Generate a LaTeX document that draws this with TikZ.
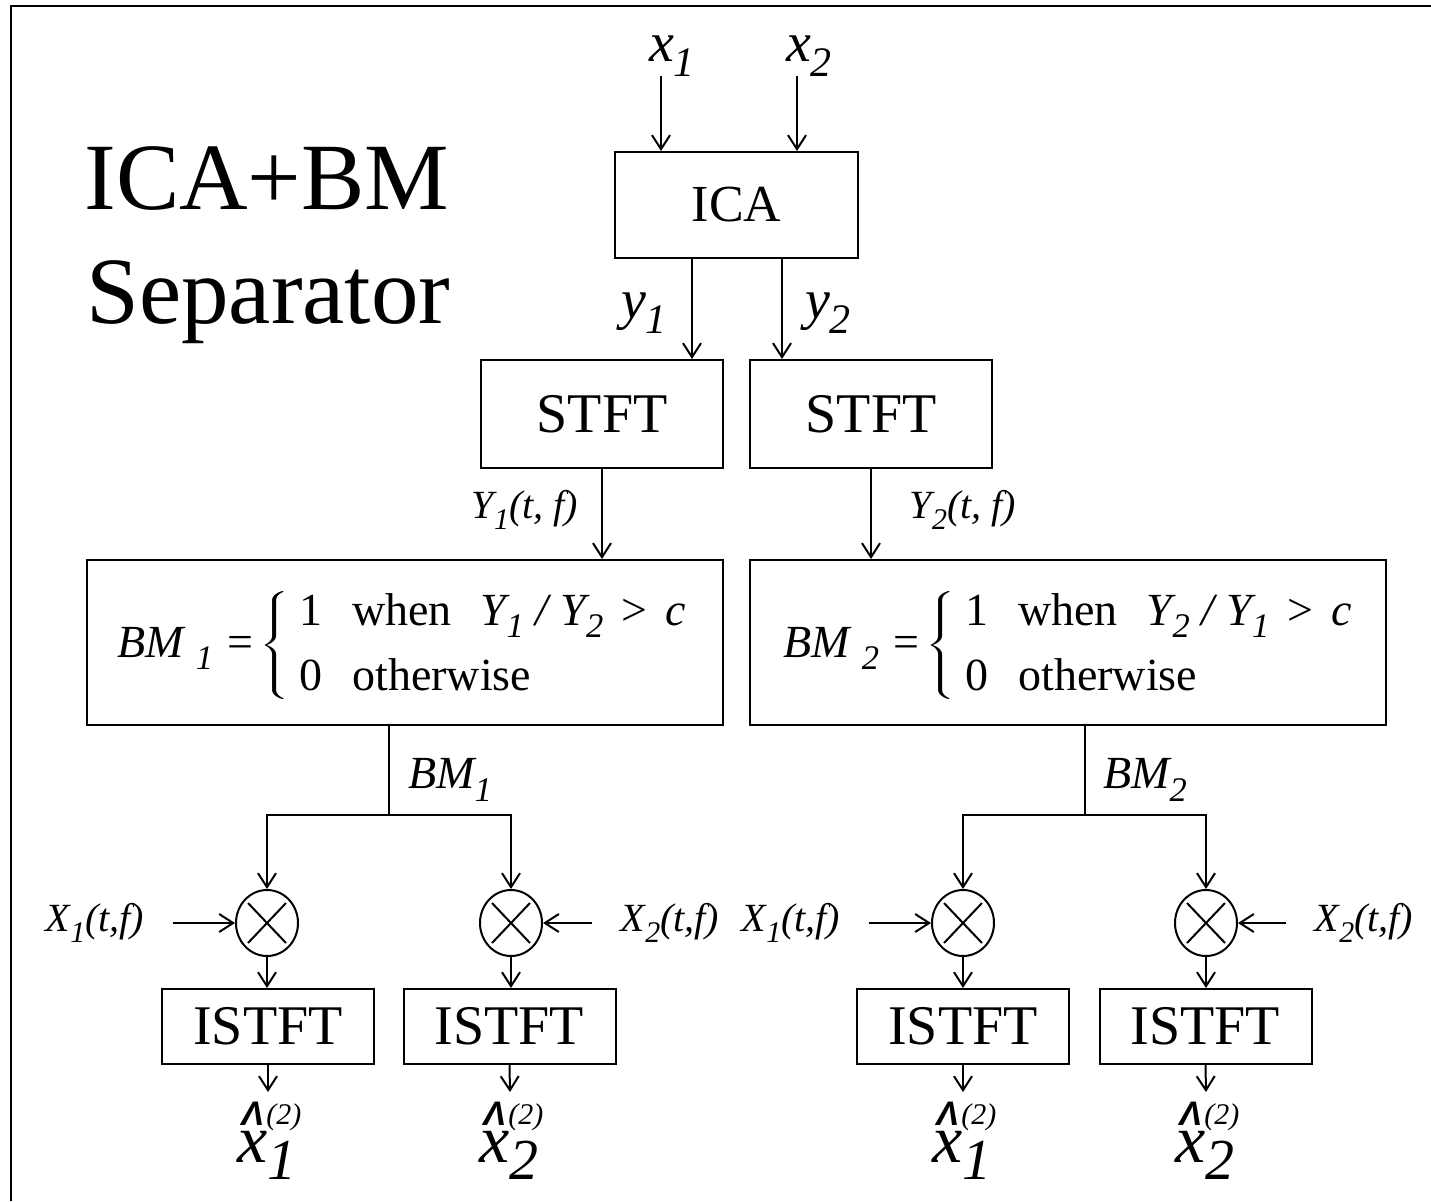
\documentclass[tikz,border=0pt]{standalone}
\usepackage{fontspec}
\setmainfont{Liberation Serif}
\setsansfont{Liberation Sans}
\usetikzlibrary{arrows.meta,shapes.geometric}
\newcommand{\lsub}[2][0.75]{\raisebox{-0.27em}{\scalebox{#1}{#2}}}
\newcommand{\xhat}[1]{{\fontsize{34}{34}\selectfont\itshape
\rlap{\hspace{2pt}\raisebox{18.5pt}{\fontsize{17}{17}\selectfont\sffamily\bfseries Λ}}%
\rlap{\hspace{14.5pt}\raisebox{19pt}{\fontsize{15}{15}\selectfont (2)}}%
\rlap{\hspace{15pt}\raisebox{-8.5pt}{\fontsize{29}{29}\selectfont #1}}%
x}}
\newcommand{\bmformula}[3]{{\fontsize{23}{32.5}\selectfont
{\itshape BM\hspace{6pt}\lsub{#1}}\hspace{7pt}=\hspace{3pt}\scalebox{1.7}[1]{$\left\{\vcenter{\hbox{\rule{0pt}{54pt}}}\right.$}\hspace{3pt}%
\begin{tabular}{@{}l@{\hspace{15pt}}l@{}}
1 & when\hspace{14.5pt}{\itshape Y\lsub{#2}\hspace{6pt}/\hspace{6pt}Y\lsub{#3}}\hspace{9pt}>\hspace{9pt}{\itshape c}\\
0 & otherwise
\end{tabular}}}
\begin{document}
\begin{tikzpicture}[x=0.5pt,y=-0.5pt,
  box/.style={draw,line width=1pt,inner sep=0pt},
  arr/.style={line width=1pt,-{Straight Barb[length=7pt,width=9pt]}},
  wire/.style={line width=1pt},
  mult/.style={draw,line width=1pt,ellipse,minimum width=31pt,minimum height=33pt,inner sep=0pt},
  lab/.style={inner sep=0pt},
  boxtxt/.style={font=\fontsize{28}{30}\selectfont},
  sig/.style={inner sep=0pt,font=\fontsize{28}{30}\selectfont\itshape},
  small/.style={inner sep=0pt,font=\fontsize{20}{22}\selectfont\itshape}]
\useasboundingbox (0,0) rectangle (1431,1201);
% frame (top and left edges)
\coordinate (fr0) at (11,1201);
\coordinate (fr1) at (11,6);
\coordinate (fr2) at (1431,6);
\draw[line width=1.3pt] (fr0) -- (fr1) -- (fr2);
% title
\node[lab,anchor=base west,font=\fontsize{47.5}{57}\selectfont] (t1) at (84,209) {ICA+BM};
\node[lab,anchor=base west,font=\fontsize{47.5}{57}\selectfont] (t2) at (86,323) {Separator};
% ICA
\node[box,font=\fontsize{26}{28}\selectfont,minimum width=121.5pt,minimum height=53pt] (ica) at (736.5,205) {ICA};
\node[sig] (x1) at (672,56) {x\lsub{1}};
\node[sig] (x2) at (809,56) {x\lsub{2}};
\coordinate (x1s) at (661,76);
\coordinate (x2s) at (797,76);
\draw[arr] (x1s) -- (x1s |- ica.north);
\draw[arr] (x2s) -- (x2s |- ica.north);
% STFT
\node[box,boxtxt,minimum width=121pt,minimum height=54pt] (stft1) at (602,414) {STFT};
\node[box,boxtxt,minimum width=121pt,minimum height=54pt] (stft2) at (871,414) {STFT};
\coordinate (y1s) at (692,258);
\coordinate (y2s) at (782,258);
\draw[arr] (y1s |- ica.south) -- (y1s |- stft1.north);
\draw[arr] (y2s |- ica.south) -- (y2s |- stft2.north);
\node[sig] (y1) at (644,313) {y\lsub{1}};
\node[sig] (y2) at (828,313) {y\lsub{2}};
% BM boxes
\node[box,minimum width=318pt,minimum height=82.5pt] (bm1) at (405,642.5) {};
\node[box,minimum width=318pt,minimum height=82.5pt] (bm2) at (1068,642.5) {};
\node[lab,anchor=west] (f1) at (117,645) {\bmformula{1}{1}{2}};
\node[lab,anchor=west] (f2) at (783,645) {\bmformula{2}{2}{1}};
\draw[arr] (stft1.south) -- (stft1.south |- bm1.north);
\draw[arr] (stft2.south) -- (stft2.south |- bm2.north);
\node[small] (Y1) at (525,510) {Y\lsub{1}(t, f)};
\node[small] (Y2) at (963,510) {Y\lsub{2}(t, f)};
% multipliers
\node[mult] (c1) at (267,923) {};
\node[mult] (c2) at (511,923) {};
\node[mult] (c3) at (963,923) {};
\node[mult] (c4) at (1206,923) {};
\foreach \c in {c1,c2,c3,c4}{
  \draw[wire] ([shift={(-19,-20)}]\c.center) -- ([shift={(19,20)}]\c.center);
  \draw[wire] ([shift={(-19,20)}]\c.center) -- ([shift={(19,-20)}]\c.center);
}
% junctions
\coordinate (j1) at (389,815);
\coordinate (j2) at (1085,815);
\draw[wire] (j1 |- bm1.south) -- (j1);
\draw[wire] (j2 |- bm2.south) -- (j2);
\draw[arr] (j1) -| (c1.north);
\draw[arr] (j1) -| (c2.north);
\draw[arr] (j2) -| (c3.north);
\draw[arr] (j2) -| (c4.north);
\node[small,font=\fontsize{23}{24}\selectfont\itshape] (b1) at (450,780) {BM\lsub{1}};
\node[small,font=\fontsize{23}{24}\selectfont\itshape] (b2) at (1145,780) {BM\lsub{2}};
% X inputs
\node[small] (X1a) at (95,923) {X\lsub{1}(t,f)};
\node[small] (X2a) at (670,923) {X\lsub{2}(t,f)};
\node[small] (X1b) at (791,923) {X\lsub{1}(t,f)};
\node[small] (X2b) at (1364,923) {X\lsub{2}(t,f)};
\draw[arr] ([xshift=14pt]X1a.east) -- (c1.west);
\draw[arr] ([xshift=-14pt]X2a.west) -- (c2.east);
\draw[arr] ([xshift=14pt]X1b.east) -- (c3.west);
\draw[arr] ([xshift=-14pt]X2b.west) -- (c4.east);
% ISTFT
\node[box,boxtxt,minimum width=106pt,minimum height=37.5pt] (is1) at (268,1026.5) {ISTFT};
\node[box,boxtxt,minimum width=106pt,minimum height=37.5pt] (is2) at (509.5,1026.5) {ISTFT};
\node[box,boxtxt,minimum width=106pt,minimum height=37.5pt] (is3) at (963,1026.5) {ISTFT};
\node[box,boxtxt,minimum width=106pt,minimum height=37.5pt] (is4) at (1205.5,1026.5) {ISTFT};
\draw[arr] (c1.south) -- (c1.south |- is1.north);
\draw[arr] (c2.south) -- (c2.south |- is2.north);
\draw[arr] (c3.south) -- (c3.south |- is3.north);
\draw[arr] (c4.south) -- (c4.south |- is4.north);
% outputs
\node[lab,anchor=base west] (o1) at (237,1162) {\xhat{1}};
\node[lab,anchor=base west] (o2) at (479,1162) {\xhat{2}};
\node[lab,anchor=base west] (o3) at (932,1162) {\xhat{1}};
\node[lab,anchor=base west] (o4) at (1175,1162) {\xhat{2}};
\coordinate (d1) at (268,1092);
\coordinate (d2) at (510,1092);
\coordinate (d3) at (963,1092);
\coordinate (d4) at (1206,1092);
\draw[arr] (is1.south) -- (d1);
\draw[arr] (is2.south) -- (d2);
\draw[arr] (is3.south) -- (d3);
\draw[arr] (is4.south) -- (d4);
\end{tikzpicture}
\end{document}
